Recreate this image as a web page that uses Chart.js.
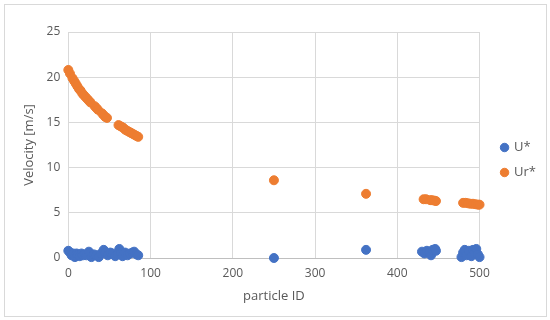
<!DOCTYPE html>
<html>
<head>
<meta charset="utf-8">
<script src="https://cdn.jsdelivr.net/npm/chart.js@4"></script>
<style>
  body { margin: 0; background: #fff; }
  #frame { position: absolute; left: 4px; top: 4px; width: 541px; height: 311px; border: 1px solid #d9d9d9; }
  #wrap { position: absolute; left: 0; top: 0; width: 550px; height: 320px; }
</style>
</head>
<body>
<div id="frame"></div>
<div id="wrap"><canvas id="velChart"></canvas></div>
<script>
// U* (blå) och Ur* (orange) per partikel
const uX = [0, 2, 4, 6, 8, 10, 12, 14, 16, 18, 20, 22, 25, 28, 31, 34, 37, 40, 43, 45, 48, 51, 54, 57, 60, 62, 64, 66, 69, 72, 75, 78, 80, 83, 85,
  250, 362, 430, 433, 436, 439, 441, 443, 446, 447, 478, 480, 482, 484, 487, 490, 492, 494, 496, 498, 500];
const uY = [0.8, 0.6, 0.3, 0.5, 0.1, 0.5, 0.4, 0.2, 0.5, 0.3, 0.4, 0.3, 0.7, 0.1, 0.4, 0.3, 0.1, 0.5, 0.9, 0.6, 0.3, 0.6, 0.5, 0.2, 0.4, 1.0, 0.5, 0.2, 0.6, 0.3, 0.5, 0.6, 0.7, 0.4, 0.3,
  0.0, 0.9, 0.7, 0.5, 0.8, 0.6, 0.3, 0.9, 1.0, 0.8, 0.1, 0.6, 0.9, 0.3, 0.8, 0.2, 0.9, 0.5, 1.0, 0.4, 0.1];

const urX = [0, 2, 5, 7, 9, 11, 13, 15, 17, 19, 21, 23, 25, 27, 32, 34, 36, 41, 43, 45, 47, 61, 63, 65, 67, 69, 71, 73, 75, 77, 79, 81, 83, 85,
  250, 362, 432, 435, 440, 442, 445, 447, 480, 483, 486, 489, 492, 495, 498, 500];
const urY = [20.8, 20.4, 19.9, 19.6, 19.3, 19.0, 18.7, 18.5, 18.2, 18.0, 17.8, 17.6, 17.4, 17.2, 16.8, 16.6, 16.4, 16.0, 15.8, 15.6, 15.5, 14.7, 14.6, 14.5, 14.4, 14.2, 14.1, 14.0, 13.9, 13.8, 13.7, 13.6, 13.5, 13.4,
  8.6, 7.1, 6.5, 6.5, 6.4, 6.4, 6.35, 6.3, 6.1, 6.1, 6.05, 6.0, 6.0, 5.95, 5.9, 5.9];

const xTicks = [0, 100, 200, 300, 400, 500];
const yTicks = [0, 5, 10, 15, 20, 25];

const toPoints = (xs, ys) => xs.map((x, i) => ({ x: x, y: ys[i] }));

const fontFam = "'Open Sans', sans-serif";

const data = {
  datasets: [
    {
      label: 'U*',
      data: toPoints(uX, uY),
      backgroundColor: '#4472C4',
      borderColor: '#4472C4',
      pointRadius: 4.5,
      pointHoverRadius: 4.5,
      clip: false
    },
    {
      label: 'Ur*',
      data: toPoints(urX, urY),
      backgroundColor: '#ED7D31',
      borderColor: '#ED7D31',
      pointRadius: 4.5,
      pointHoverRadius: 4.5,
      clip: false
    }
  ]
};

// flytta legenden lite åt höger och uppåt, som i Excel
const legendShift = {
  id: 'legendShift',
  afterLayout(chart) {
    const lg = chart.legend;
    if (!lg) return;
    lg.left += 10; lg.right += 10;
    lg.top -= 10; lg.bottom -= 10;
  }
};

const config = {
  type: 'scatter',
  data,
  plugins: [legendShift],
  options: {
    responsive: true,
    maintainAspectRatio: false,
    animation: false,
    layout: { padding: { top: 32, left: 17, right: 14, bottom: 12 } },
    plugins: {
      tooltip: { enabled: false },
      legend: {
        position: 'right',
        labels: {
          usePointStyle: true,
          pointStyle: 'circle',
          boxWidth: 6,
          boxHeight: 6,
          padding: 12,
          color: '#595959',
          font: { family: fontFam, size: 13 }
        }
      }
    },
    scales: {
      x: {
        type: 'linear',
        min: 0,
        max: 500,
        afterBuildTicks: (axis) => { axis.ticks = xTicks.map(v => ({ value: v })); },
        grid: { color: '#d9d9d9', drawTicks: false },
        border: { color: '#bfbfbf' },
        ticks: { color: '#595959', padding: 8, font: { family: fontFam, size: 12 } },
        title: { display: true, text: 'particle ID', color: '#595959', font: { family: fontFam, size: 13 }, padding: { top: 0 } }
      },
      y: {
        min: 0,
        max: 25,
        afterBuildTicks: (axis) => { axis.ticks = yTicks.map(v => ({ value: v })); },
        grid: { color: '#d9d9d9', drawTicks: false },
        border: { display: false },
        ticks: { color: '#595959', padding: 8, font: { family: fontFam, size: 12 } },
        title: { display: true, text: 'Velocity [m/s]', color: '#595959', font: { family: fontFam, size: 13 }, padding: { bottom: 2 } }
      }
    }
  }
};

const canvas = document.getElementById('velChart');
new Chart(canvas, config);
</script>
</body>
</html>
